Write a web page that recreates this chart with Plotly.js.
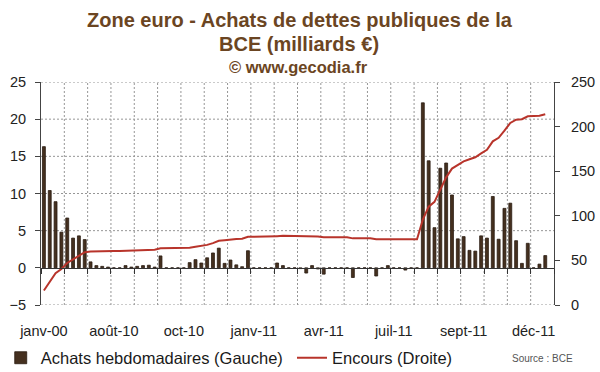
<!DOCTYPE html>
<html>
<head>
<meta charset="utf-8">
<script src="https://cdn.plot.ly/plotly-3.0.1.min.js"></script>
<style>
html, body { margin: 0; padding: 0; background: #ffffff; }
#chart { width: 600px; height: 372px; }
</style>
</head>
<body>
<div id="chart"></div>
<script>
// Achats hebdomadaires de la BCE (milliards €), axe de gauche
const achats = [
  16.3, 10.4, 8.9, 4.8, 6.7, 4.0, 4.3, 3.8, 0.8, 0.3,
  0.2, 0.1, 0, 0, 0.3, 0.1, 0.2, 0.3, 0.35, 0.1,
  1.6, 0, 0, 0, 0, 0.7, 1.1, 0.65, 1.35, 2.0,
  2.65, 0.6, 1.05, 0.4, 0.15, 2.3, 0, 0, 0, 0,
  0.65, 0.3, 0, 0, -0.1, -0.7, 0.3, -0.15, -0.85, 0,
  0, 0, 0, -1.3, 0, 0, 0, -1.1, 0, 0.3,
  0, 0, -0.3, 0, 0, 22.2, 14.4, 5.4, 13.4, 14.1,
  9.8, 3.9, 4.2, 2.35, 2.25, 4.3, 4.0, 9.6, 3.85, 8.0,
  8.7, 3.65, 0.6, 3.3, 0, 0.5, 1.65, null
];

// Encours (milliards €), axe de droite
const encours = [
  16.3, 26.7, 35.6, 40.4, 47.1, 51.1, 55.4, 59.2, 60.0, 60.3,
  60.5, 60.6, 60.6, 60.6, 60.9, 61.0, 61.2, 61.5, 61.9, 62.0,
  63.6, 63.6, 63.6, 63.6, 63.6, 64.3, 65.4, 66.0, 67.4, 69.4,
  72.0, 72.6, 73.7, 74.1, 74.2, 76.5, 76.5, 76.5, 76.5, 76.5,
  77.2, 77.5, 77.5, 77.5, 77.4, 76.7, 77.0, 76.8, 76.0, 76.0,
  76.0, 76.0, 76.0, 74.7, 74.7, 74.7, 74.7, 73.6, 73.6, 73.9,
  73.9, 73.9, 73.6, 73.6, 73.6, 95.8, 110.2, 115.6, 129.0, 143.1,
  152.9, 156.8, 161.0, 163.4, 165.6, 169.9, 173.9, 183.5, 187.4, 195.4,
  204.1, 207.7, 208.3, 211.6, 211.6, 212.1, 213.8
];

// Étiquettes de l'axe des x (une toutes les 12 semaines)
const moisLabels = ['janv-00', 'août-10', 'oct-10', 'janv-11', 'avr-11', 'juil-11', 'sept-11', 'déc-11'];
const labelStep = 12;
const gridStep = 4;
const leftStep = 5;

const semaines = achats.map((_, i) => i);
const tickPositions = moisLabels.map((_, i) => i * labelStep);
const xRange = [-0.5, semaines.length - 0.5];
const leftRange = [-5, 25];
const rightRange = [0, 250];

const FONT = 'Liberation Sans, Arial, sans-serif';
const TITLE_COLOR = '#6B4522';
const GRID = '#969696';
const GRID_DASH = '2px,2px';

// Quadrillage pointillé (pas de l'axe, pas des données)
const gridShapes = [];
for (let b = xRange[0] + gridStep; b < xRange[1] - 0.01; b += gridStep) {
  gridShapes.push({ type: 'line', xref: 'x', yref: 'paper', x0: b, x1: b, y0: 0, y1: 1, layer: 'below',
    line: { color: GRID, width: 1, dash: GRID_DASH } });
}
for (let v = leftRange[0]; v <= leftRange[1] + 0.01; v += leftStep) {
  if (v === 0) continue;
  gridShapes.push({ type: 'line', xref: 'paper', yref: 'y', x0: 0, x1: 1, y0: v, y1: v, layer: 'below',
    line: { color: GRID, width: 1, dash: GRID_DASH } });
}

const traces = [
  { type: 'bar', name: 'Achats hebdomadaires (Gauche)', x: semaines, y: achats, width: 0.5,
    marker: { color: '#45301F', line: { color: '#2A1C12', width: 0.8 } },
    xaxis: 'x', yaxis: 'y', legend: 'legend', hoverinfo: 'skip' },
  { type: 'scatter', mode: 'lines', name: 'Encours (Droite)', x: semaines.slice(0, encours.length), y: encours,
    line: { color: '#B8342B', width: 2 }, xaxis: 'x2', yaxis: 'y2', legend: 'legend2', hoverinfo: 'skip' }
];

const tickFont = { family: FONT, size: 14.5, color: '#222222' };
const legendFont = { family: FONT, size: 16.5, color: '#1a1a1a' };

const layout = {
  width: 600, height: 372,
  margin: { l: 41, r: 46, t: 82, b: 67, autoexpand: false },
  paper_bgcolor: '#ffffff', plot_bgcolor: 'rgba(0,0,0,0)',
  font: { family: FONT, color: '#222222' },
  showlegend: true,
  xaxis: { range: xRange, tickmode: 'linear', tick0: xRange[0], dtick: gridStep, showticklabels: false,
    ticks: 'outside', ticklen: 5, tickcolor: '#333333', showline: true, linecolor: '#333333', linewidth: 1,
    showgrid: false, zeroline: false, layer: 'above traces',
    anchor: 'free', position: (0 - leftRange[0]) / (leftRange[1] - leftRange[0]) },
  xaxis2: { overlaying: 'x', range: xRange, tickmode: 'array', tickvals: tickPositions, ticktext: moisLabels,
    ticks: '', showgrid: false, zeroline: false, showline: false, anchor: 'y2', side: 'bottom',
    tickfont: tickFont, ticklabelstandoff: 15 },
  yaxis: { range: leftRange, tickmode: 'linear', tick0: 0, dtick: leftStep, ticks: 'outside', ticklen: 5,
    tickcolor: '#444444', showline: true, linecolor: '#444444', linewidth: 1,
    showgrid: false, zeroline: false, tickfont: tickFont, ticklabelstandoff: 6 },
  yaxis2: { overlaying: 'y', side: 'right', anchor: 'x2', range: rightRange, tickmode: 'linear', tick0: 0, dtick: 50,
    ticks: 'outside', ticklen: 5, tickcolor: '#444444', showline: true, linecolor: '#444444', linewidth: 1,
    showgrid: false, zeroline: false, tickfont: tickFont, ticklabelstandoff: 8 },
  legend: { orientation: 'h', x: -0.0785, xanchor: 'left', y: -0.2377, yanchor: 'middle',
    font: legendFont, bgcolor: 'rgba(0,0,0,0)' },
  legend2: { orientation: 'h', x: (292 - 41) / 513, xanchor: 'left', y: -0.2377, yanchor: 'middle',
    font: legendFont, bgcolor: 'rgba(0,0,0,0)' },
  shapes: gridShapes,
  annotations: [
    { text: 'Zone euro - Achats de dettes publiques de la', xref: 'paper', yref: 'paper', x: (300 - 41) / 513, y: 1.278,
      xanchor: 'center', yanchor: 'middle', showarrow: false, font: { family: FONT, size: 20, color: TITLE_COLOR, weight: 'bold' } },
    { text: 'BCE (milliards €)', xref: 'paper', yref: 'paper', x: (298.5 - 41) / 513, y: 1.170,
      xanchor: 'center', yanchor: 'middle', showarrow: false, font: { family: FONT, size: 20, color: TITLE_COLOR, weight: 'bold' } },
    { text: '© www.gecodia.fr', xref: 'paper', yref: 'paper', x: (298 - 41) / 513, y: 1.067,
      xanchor: 'center', yanchor: 'middle', showarrow: false, font: { family: FONT, size: 16.5, color: TITLE_COLOR, weight: 'bold' } },
    { text: 'Source : BCE', xref: 'paper', yref: 'paper', x: (542.5 - 41) / 513, y: (305 - 358) / 223,
      xanchor: 'center', yanchor: 'middle', showarrow: false, font: { family: FONT, size: 10, color: '#555555' } }
  ]
};

Plotly.newPlot('chart', traces, layout, { displayModeBar: false, staticPlot: true });
</script>
</body>
</html>
